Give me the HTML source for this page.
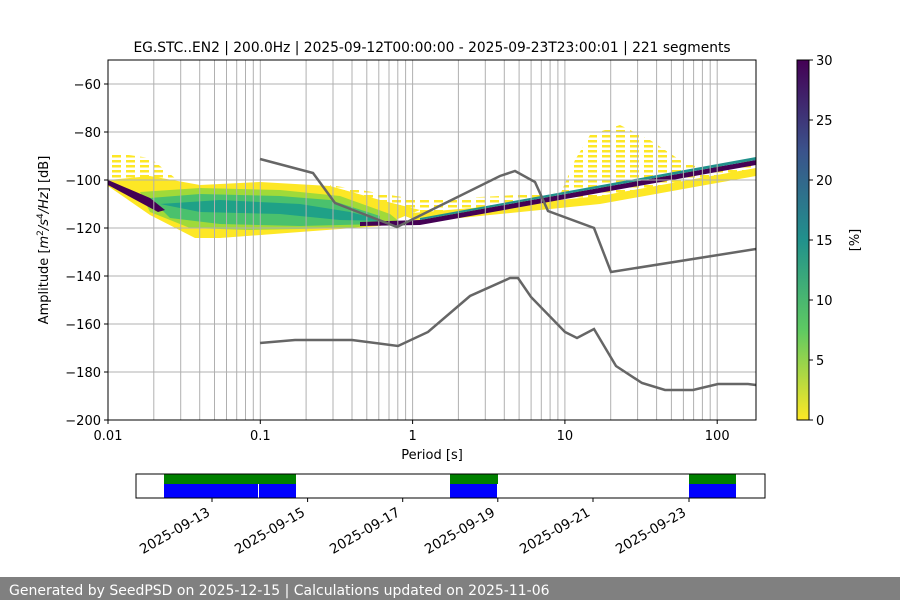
<!DOCTYPE html>
<html><head><meta charset="utf-8"><style>
body{margin:0;background:#fff;width:900px;height:600px;overflow:hidden;font-family:"DejaVu Sans","Liberation Sans",sans-serif}
</style></head><body>
<svg width="900" height="600" xmlns="http://www.w3.org/2000/svg" font-family="DejaVu Sans, Liberation Sans, sans-serif" font-size="13">
<defs>
<linearGradient id="vir" x1="0" y1="1" x2="0" y2="0">
<stop offset="0" stop-color="#fde725"/><stop offset="0.25" stop-color="#5ec962"/><stop offset="0.5" stop-color="#21918c"/><stop offset="0.75" stop-color="#3b528b"/><stop offset="1" stop-color="#440154"/>
</linearGradient>
<pattern id="sp" width="14" height="5" patternUnits="userSpaceOnUse"><rect x="0" y="0" width="9" height="2.5" fill="#fde725"/></pattern>
<clipPath id="ax"><rect x="108" y="60" width="648" height="360"/></clipPath>
</defs>
<text x="432" y="52" text-anchor="middle" font-size="13.8">EG.STC..EN2 | 200.0Hz | 2025-09-12T00:00:00 - 2025-09-23T23:00:01 | 221 segments</text>
<g clip-path="url(#ax)">
<!-- sparse yellow -->
<polygon fill="url(#sp)" points="108,152 150,158 175,178 108,180"/>
<polygon fill="url(#sp)" points="560,195 575,160 590,135 620,125 650,140 680,160 700,168 756,158 756,170 600,200"/>
<polygon fill="url(#sp)" points="330,185 420,200 500,196 560,192 560,200 430,214 340,205"/>
<!-- dense yellow -->
<polygon fill="#fde725" points="108,180 150,176 200,185 260,182 330,186 380,200 420,210 380,226 300,232 220,238 195,238 150,215 108,186"/>
<polygon fill="#fde725" points="400,214 520,204 600,196 700,178 756,168 756,176 700,186 600,204 500,214 420,222"/>
<polygon fill="#a0da39" points="140,192 200,188 280,190 340,196 390,214 400,222 350,228 250,230 190,228 150,212"/>
<polygon fill="#4ac16d" points="150,198 200,194 280,196 330,200 380,216 380,224 300,226 220,224 170,218"/>
<polygon fill="#1fa187" points="160,204 220,200 300,204 350,212 385,221 340,220 280,214 200,212"/>
<polygon fill="#440154" points="108,180 150,198 165,210 158,212 108,185"/>
<polygon fill="#440154" points="360,222 420,220 756,160 756,165 420,225 360,226"/>
<polygon fill="#21918c" points="420,218 756,157 756,160 420,220"/>
</g>
<!-- grid -->
<g stroke="#b0b0b0" stroke-width="1">
<line x1="108" y1="84" x2="756" y2="84"/><line x1="108" y1="132" x2="756" y2="132"/><line x1="108" y1="180" x2="756" y2="180"/><line x1="108" y1="228" x2="756" y2="228"/><line x1="108" y1="276" x2="756" y2="276"/><line x1="108" y1="324" x2="756" y2="324"/><line x1="108" y1="372" x2="756" y2="372"/>
<g id="dec">
<line x1="153.8" y1="60" x2="153.8" y2="420"/><line x1="180.7" y1="60" x2="180.7" y2="420"/><line x1="199.7" y1="60" x2="199.7" y2="420"/><line x1="214.5" y1="60" x2="214.5" y2="420"/><line x1="226.5" y1="60" x2="226.5" y2="420"/><line x1="236.7" y1="60" x2="236.7" y2="420"/><line x1="245.5" y1="60" x2="245.5" y2="420"/><line x1="253.3" y1="60" x2="253.3" y2="420"/><line x1="260.3" y1="60" x2="260.3" y2="420"/>
</g>
<use href="#dec" x="152.3"/><use href="#dec" x="304.6"/><use href="#dec" x="456.9"/>
</g>
<!-- noise models -->
<g fill="none" stroke="#666" stroke-width="2.5" clip-path="url(#ax)">
<polyline points="260,159 313,173 335,203 397,227 500,176 515,171 535,182 548,211 594,228 611,272 756,249"/>
<polyline points="260,343 295,340 352,340 398,346 428,332 470,296 510,278 518,278 531,297 565,332 577,338 594,329 616,366 642,383 665,390 693,390 718,384 748,384 756,385"/>
</g>
<rect x="108" y="60" width="648" height="360" fill="none" stroke="#000" stroke-width="1"/>
<g stroke="#000">
<line x1="104" y1="84" x2="108" y2="84"/><line x1="104" y1="132" x2="108" y2="132"/><line x1="104" y1="180" x2="108" y2="180"/><line x1="104" y1="228" x2="108" y2="228"/><line x1="104" y1="276" x2="108" y2="276"/><line x1="104" y1="324" x2="108" y2="324"/><line x1="104" y1="372" x2="108" y2="372"/><line x1="104" y1="420" x2="108" y2="420"/>
<line x1="108" y1="420" x2="108" y2="424"/><line x1="260.3" y1="420" x2="260.3" y2="424"/><line x1="412.6" y1="420" x2="412.6" y2="424"/><line x1="564.9" y1="420" x2="564.9" y2="424"/><line x1="717.2" y1="420" x2="717.2" y2="424"/>
</g>
<g text-anchor="end" font-size="13">
<text x="101" y="89">−60</text><text x="101" y="137">−80</text><text x="101" y="185">−100</text><text x="101" y="233">−120</text><text x="101" y="281">−140</text><text x="101" y="329">−160</text><text x="101" y="377">−180</text><text x="101" y="425">−200</text>
</g>
<g text-anchor="middle">
<text x="108" y="440">0.01</text><text x="260.3" y="440">0.1</text><text x="412.6" y="440">1</text><text x="564.9" y="440">10</text><text x="717.2" y="440">100</text>
<text x="432" y="459">Period [s]</text>
</g>
<text transform="translate(48,240) rotate(-90)" text-anchor="middle">Amplitude [<tspan font-style="italic">m</tspan><tspan font-size="9" dy="-5">2</tspan><tspan dy="5" font-style="italic">/s</tspan><tspan font-size="9" dy="-5">4</tspan><tspan dy="5" font-style="italic">/Hz</tspan>] [dB]</text>
<!-- colorbar -->
<rect x="797" y="60" width="12" height="360" fill="url(#vir)" stroke="#000" stroke-width="1"/>
<g stroke="#000"><line x1="809" y1="60" x2="813" y2="60"/><line x1="809" y1="120" x2="813" y2="120"/><line x1="809" y1="180" x2="813" y2="180"/><line x1="809" y1="240" x2="813" y2="240"/><line x1="809" y1="300" x2="813" y2="300"/><line x1="809" y1="360" x2="813" y2="360"/><line x1="809" y1="420" x2="813" y2="420"/></g>
<g><text x="816" y="65">30</text><text x="816" y="125">25</text><text x="816" y="185">20</text><text x="816" y="245">15</text><text x="816" y="305">10</text><text x="816" y="365">5</text><text x="816" y="425">0</text></g>
<text transform="translate(859,240) rotate(-90)" text-anchor="middle">[%]</text>
<!-- timeline -->
<rect x="164" y="474" width="132" height="10" fill="#008000"/>
<rect x="450" y="474" width="48" height="10" fill="#008000"/>
<rect x="689" y="474" width="47" height="10" fill="#008000"/>
<rect x="164" y="484" width="94" height="14" fill="#0000ff"/>
<rect x="259" y="484" width="37" height="14" fill="#0000ff"/>
<rect x="450" y="484" width="47" height="14" fill="#0000ff"/>
<rect x="689" y="484" width="47" height="14" fill="#0000ff"/>
<rect x="136" y="474" width="629" height="24" fill="none" stroke="#000"/>
<g stroke="#000"><line x1="212" y1="498" x2="212" y2="502"/><line x1="307.6" y1="498" x2="307.6" y2="502"/><line x1="402.7" y1="498" x2="402.7" y2="502"/><line x1="497.8" y1="498" x2="497.8" y2="502"/><line x1="593" y1="498" x2="593" y2="502"/><line x1="689" y1="498" x2="689" y2="502"/></g>
<g text-anchor="end" font-size="13.5">
<text transform="translate(211,515) rotate(-30)">2025-09-13</text>
<text transform="translate(306,515) rotate(-30)">2025-09-15</text>
<text transform="translate(401,515) rotate(-30)">2025-09-17</text>
<text transform="translate(496,515) rotate(-30)">2025-09-19</text>
<text transform="translate(591,515) rotate(-30)">2025-09-21</text>
<text transform="translate(687,515) rotate(-30)">2025-09-23</text>
</g>
<rect x="0" y="577" width="900" height="23" fill="#808080"/>
<text x="9" y="595" fill="#fff" font-size="14">Generated by SeedPSD on 2025-12-15 | Calculations updated on 2025-11-06</text>
</svg>
</body></html>
